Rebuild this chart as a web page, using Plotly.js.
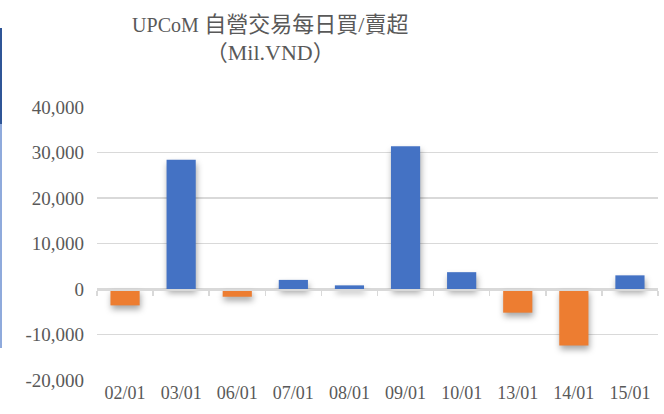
<!DOCTYPE html>
<html><head><meta charset="utf-8">
<script src="https://cdn.plot.ly/plotly-3.0.1.min.js"></script>
<style>
html,body{margin:0;padding:0;background:#fff;}
#chart{width:664px;height:414px;}
.trace.bars path{filter:drop-shadow(1px 4px 3px rgba(0,0,0,0.35));}
</style></head>
<body><div id="chart"></div>
<script>
const dates = ["02/01","03/01","06/01","07/01","08/01","09/01","10/01","13/01","14/01","15/01"];
const netValues = [-3600, 28400, -1700, 2000, 800, 31400, 3700, -5200, -12400, 3000];
const yTickVals = [-20000,-10000,0,10000,20000,30000,40000];
const yTickText = ["-20,000","-10,000","0","10,000","20,000","30,000","40,000"];
const titleLatin = "UPCoM";
const titleCJK = "自營交易每日買/賣超";
const titleUnit = "（Mil.VND）";

const BLUE = "#4472C4", ORANGE = "#ED7D31";
const colors = netValues.map(v => v >= 0 ? BLUE : ORANGE);
const txtFont = "Liberation Serif, 'Noto Sans CJK TC', serif";

const traces = [
  {type:"bar", x:dates, y:netValues, marker:{color:colors}, xaxis:"x", yaxis:"y", hoverinfo:"none"},
  {type:"bar", x:dates, y:dates.map(()=>null), xaxis:"x2", yaxis:"y", hoverinfo:"none", showlegend:false}
];

const yMin = -20000, yMax = 40000;
const layout = {
  width:664, height:414,
  margin:{l:97, r:6, t:107, b:34},
  paper_bgcolor:"#fff", plot_bgcolor:"#fff",
  showlegend:false,
  bargap:0.48,
  title:{text:"<span style='font-size:20px'>"+titleLatin+"</span> "+titleCJK+"<br>"+titleUnit,
         x:0.407, xanchor:"center", yref:"container", y:0.923, yanchor:"middle",
         font:{family:txtFont, size:22, color:"#595959"}},
  xaxis:{type:"category", anchor:"free", position:(0-yMin)/(yMax-yMin),
         showline:true, linecolor:"#d9d9d9", linewidth:1.5,
         ticks:"outside", tickson:"boundaries", ticklen:5, tickcolor:"#d9d9d9", tickwidth:1.5,
         showticklabels:false, showgrid:false, zeroline:false, fixedrange:true},
  xaxis2:{type:"category", matches:"x", overlaying:"x", anchor:"y", side:"bottom",
          showline:false, ticks:"", showgrid:false, zeroline:false,
          tickfont:{family:txtFont, size:18, color:"#595959"}},
  yaxis:{range:[yMin,yMax], tickmode:"array", tickvals:yTickVals, ticktext:yTickText,
         showgrid:true, gridcolor:"#d9d9d9", gridwidth:1.5, zeroline:false, showline:false,
         ticks:"", ticklabelstandoff:12,
         tickfont:{family:txtFont, size:19, color:"#595959"}},
  shapes:[
    {type:"line", xref:"paper", yref:"paper", x0:-0.1711, x1:-0.1711, y0:1.2894, y1:0.9377, line:{color:"#2F5597", width:2}},
    {type:"line", xref:"paper", yref:"paper", x0:-0.1711, x1:-0.1711, y0:0.9377, y1:0.1172, line:{color:"#8FAADC", width:2}}
  ]
};
Plotly.newPlot("chart", traces, layout, {staticPlot:true, displayModeBar:false});
</script></body></html>
